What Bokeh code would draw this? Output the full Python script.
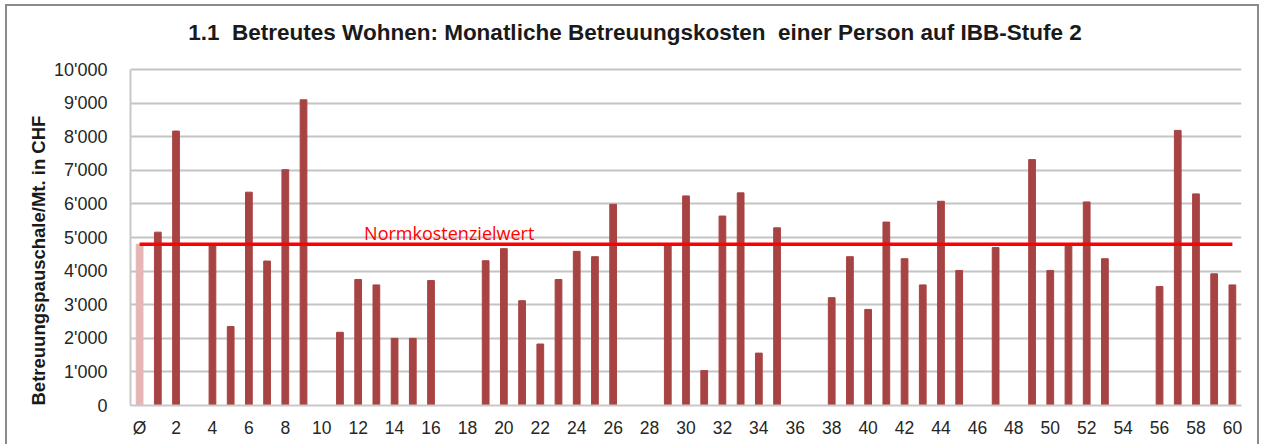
from bokeh.plotting import figure
from bokeh.models import ColumnDataSource, FixedTicker, Title, Label
from bokeh.embed import file_html
from bokeh.resources import INLINE

# ---- data ----
categories = ["Ø"] + [str(i) for i in range(1, 61)]
costs = [4800, 5160, 8170, None, 4800, 2350, 6350, 4300, 7020, 9100,
         None, 2180, 3750, 3590, 2000, 2000, 3720, None, None, 4310,
         4670, 3120, 1830, 3750, 4590, 4430, 5990, None, None, 4780,
         6240, 1040, 5640, 6330, 1560, 5290, None, None, 3210, 4430,
         2860, 5460, 4370, 3590, 6080, 4020, None, 4700, None, 7320,
         4020, 4780, 6060, 4370, None, None, 3540, 8190, 6300, 3920, 3590]
norm_value = 4800
norm_label = "Normkostenzielwert"
y_ticks = [0, 1000, 2000, 3000, 4000, 5000, 6000, 7000, 8000, 9000, 10000]
title_text = "1.1  Betreutes Wohnen: Monatliche Betreuungskosten  einer Person auf IBB-Stufe 2"
y_title = "Betreuungspauschale/Mt. in CHF"

DARK = "#A84343"
LIGHT = "#E8B5B5"

xs, tops, cols = [], [], []
for i, v in enumerate(costs):
    if v is None:
        continue
    xs.append(i)
    tops.append(v)
    cols.append(LIGHT if categories[i] == "Ø" else DARK)
src = ColumnDataSource(dict(x=xs, top=tops, color=cols))

y_max = y_ticks[-1]
# the frame extends above the top gridline to leave room for the title
p = figure(width=1254, height=440, output_backend="svg", toolbar_location=None,
           x_range=(-0.5, len(categories) - 0.5), y_range=(0, y_max * 1.164),
           min_border_left=123, min_border_right=20, min_border_top=8,
           min_border_bottom=41)
p.styles = {"margin-left": "5px", "margin-top": "4px",
            "border-top": "2px solid #8a8a8a", "border-left": "2px solid #8a8a8a",
            "border-right": "2px solid #8a8a8a"}
p.outline_line_color = None
p.background_fill_color = "white"
p.border_fill_color = "white"

p.vbar(x="x", top="top", width=0.37, color="color", source=src)

n = len(categories)
p.line(x=[0, n - 1], y=[norm_value, norm_value], line_color="#FF0000", line_width=3.3)

p.add_layout(Label(x=17, y=norm_value + 330, text=norm_label, text_color="#FF0000",
                   text_font="Open Sans", text_font_size="18px",
                   text_align="center", text_baseline="alphabetic"))

# chart title (non-breaking spaces keep the double spaces visible in SVG)
p.add_layout(Label(x=27.2, y=y_max * 1.11,
                   text=title_text.replace("  ", "\u00a0 "),
                   text_font="Liberation Sans", text_font_size="22.5px",
                   text_font_style="bold", text_color="#1a1a1a",
                   text_align="center", text_baseline="middle"))

yt = Title(text=y_title, align="left", offset=0, standoff=6,
           text_font="Liberation Sans", text_font_size="18.5px",
           text_font_style="bold", text_color="#1a1a1a")
p.add_layout(yt, "left")

# x axis
p.xaxis.ticker = FixedTicker(ticks=list(range(0, n, 2)))
p.xaxis.major_label_overrides = {i: categories[i] for i in range(0, n, 2)}
p.xaxis.major_tick_line_color = None
p.xaxis.minor_tick_line_color = None
p.xaxis.axis_line_color = "#c8c8c8"
p.xaxis.axis_line_width = 2
p.xaxis.major_label_text_font = "Liberation Sans"
p.xaxis.major_label_text_font_size = "17.5px"
p.xaxis.major_label_text_color = "#262626"
p.xaxis.major_label_standoff = 6

# y axis
p.yaxis.ticker = FixedTicker(ticks=y_ticks)
p.yaxis.bounds = (0, y_max)
p.yaxis.major_label_overrides = {v: f"{v:,}".replace(",", "'") for v in y_ticks}
p.yaxis.major_tick_line_color = None
p.yaxis.minor_tick_line_color = None
p.yaxis.axis_line_color = "#c8c8c8"
p.yaxis.axis_line_width = 2
p.yaxis.major_label_text_font = "Liberation Sans"
p.yaxis.major_label_text_font_size = "18px"
p.yaxis.major_label_text_color = "#262626"
p.yaxis.major_label_standoff = 17

p.xgrid.grid_line_color = None
p.ygrid.grid_line_color = "#c4c4c4"
p.ygrid.grid_line_width = 2

open("out.html", "w").write(file_html(p, INLINE))
